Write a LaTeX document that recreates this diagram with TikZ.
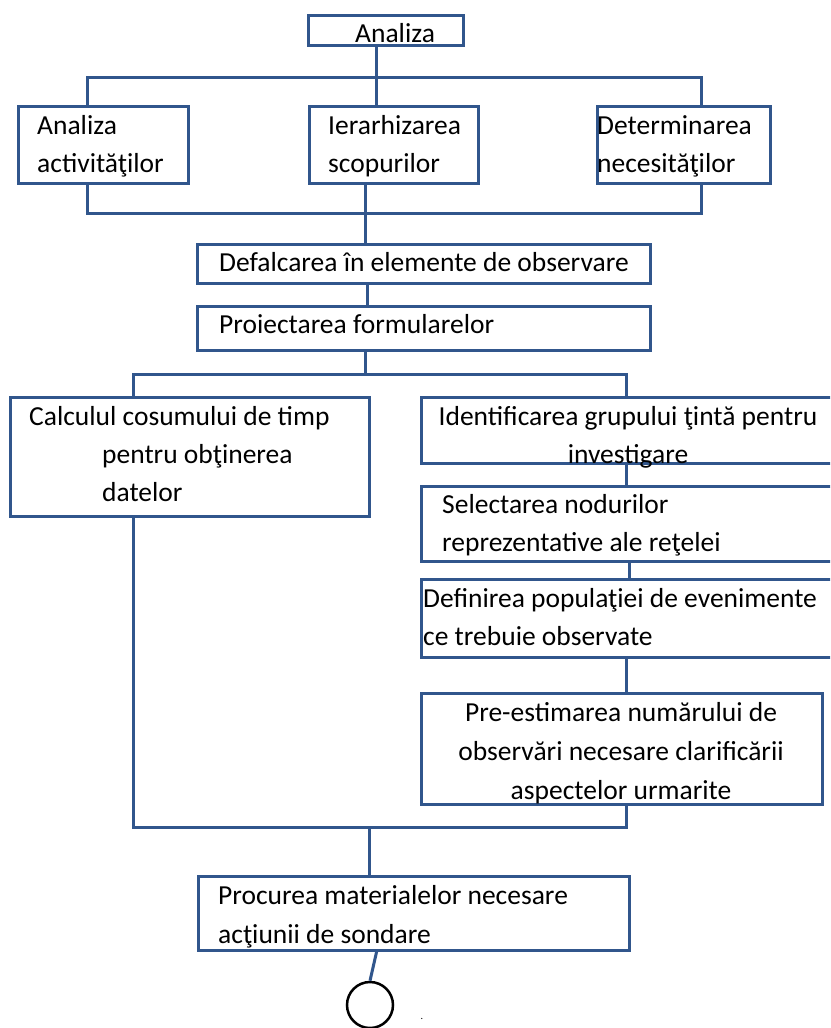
\documentclass[tikz,border=0pt]{standalone}
\usepackage{fontspec}
\setmainfont{Carlito}
\definecolor{bd}{RGB}{49,86,140}
\begin{document}
\begin{tikzpicture}[x=1pt,y=-1pt,
  box/.style={draw=bd, line width=3pt, inner sep=0pt, outer sep=0pt, rectangle},
  wire/.style={draw=bd, line width=3pt},
  txt/.style={font=\fontsize{27.5}{38}\selectfont, inner sep=0pt, align=left, anchor=base west},
  ctxt/.style={font=\fontsize{27.5}{38}\selectfont, inner sep=0pt, align=center, anchor=base}]
\useasboundingbox (0,0) rectangle (830,1028);
\clip (0,0) rectangle (830,1028);
\fill[white] (0,0) rectangle (830,1028);
% boxes
\node[box, minimum width=155pt, minimum height=30pt] (top) at (385.5,30) {};
\node[box, minimum width=170pt, minimum height=77pt] (a1) at (103,144.5) {};
\node[box, minimum width=169pt, minimum height=77pt] (a2) at (393.5,144.5) {};
\node[box, minimum width=173pt, minimum height=77pt] (a3) at (683.5,144.5) {};
\node[box, minimum width=453pt, minimum height=39pt] (def) at (423.5,263.5) {};
\node[box, minimum width=453pt, minimum height=44pt] (proi) at (423.5,328) {};
\node[box, minimum width=359pt, minimum height=119pt] (calc) at (189.5,456.5) {};
\node[box, minimum width=439pt, minimum height=66pt] (ident) at (640.5,430) {};
\node[box, minimum width=439pt, minimum height=75pt] (sel) at (640.5,523.5) {};
\node[box, minimum width=439pt, minimum height=78pt] (defp) at (640.5,618) {};
\node[box, minimum width=401pt, minimum height=111pt] (pre) at (621.5,748.5) {};
\node[box, minimum width=431pt, minimum height=74pt] (proc) at (413.5,913) {};
\node[draw=black, line width=2.5pt, circle, minimum size=46pt, inner sep=0pt] (end) at (370,1005) {};
% junction coordinates
\coordinate (h1L) at (87,77);
\coordinate (h1C) at (376,77);
\coordinate (h1R) at (701,77);
\coordinate (h2L) at (87,213);
\coordinate (h2C) at (365,213);
\coordinate (h2R) at (701,213);
\coordinate (d1) at (367,300);
\coordinate (h3L) at (133,374);
\coordinate (h3C) at (365,374);
\coordinate (h3R) at (626,374);
\coordinate (v1) at (626,470);
\coordinate (v2) at (629,570);
\coordinate (v3) at (626,670);
\coordinate (h4L) at (133,827);
\coordinate (h4C) at (369,827);
\coordinate (h4R) at (626,827);
\coordinate (pb) at (377,950);
% connectors
\draw[wire] (h1C |- top.south) -- (h1C |- a2.north);
\draw[wire] (h1L |- a1.north) -- (h1L) -- (h1R) -- (h1R |- a3.north);
\draw[wire] (h2L |- a1.south) -- (h2L) -- (h2R) -- (h2R |- a3.south);
\draw[wire] (h2C |- a2.south) -- (h2C |- def.north);
\draw[wire] (d1 |- def.south) -- (d1 |- proi.north);
\draw[wire] (h3C |- proi.south) -- (h3C);
\draw[wire] (h3L |- calc.north) -- (h3L) -- (h3R) -- (h3R |- ident.north);
\draw[wire] (v1 |- ident.south) -- (v1 |- sel.north);
\draw[wire] (v2 |- sel.south) -- (v2 |- defp.north);
\draw[wire] (v3 |- defp.south) -- (v3 |- pre.north);
\draw[wire] (h4L |- calc.south) -- (h4L) -- (h4R) -- (h4R |- pre.south);
\draw[wire] (h4C) -- (h4C |- proc.north);
\draw[wire] (pb) -- (end.north);
% texts (base anchor = baseline of last line)
\node[txt] (t0) at (355,42) {Analiza};
\node[txt] (t1) at (37,172) {Analiza\\activităţilor};
\node[txt] (t2) at (328,172) {Ierarhizarea\\scopurilor};
\node[txt] (t3) at (597,172) {Determinarea\\necesităţilor};
\node[txt] (t4) at (219,271) {Defalcarea în elemente de observare};
\node[txt] (t5) at (219,333) {Proiectarea formularelor};
\node[txt] (t6) at (29,501) {Calculul cosumului de timp\\\hspace*{73pt}pentru obţinerea\\\hspace*{73pt}datelor};
\node[ctxt] (t7) at (628,463) {Identificarea grupului ţintă pentru\\investigare};
\node[txt] (t8) at (442,551) {Selectarea nodurilor\\reprezentative ale reţelei};
\node[txt] (t9) at (423,645) {Definirea populaţiei de evenimente\\ce trebuie observate};
\node[ctxt, font=\fontsize{27.5}{39}\selectfont] (t10) at (621,799) {Pre-estimarea numărului de\\observări necesare clarificării\\aspectelor urmarite};
\node[txt, font=\fontsize{27.5}{39}\selectfont] (t11) at (218,943) {Procurea materialelor necesare\\acţiunii de sondare};
\node[font=\fontsize{10}{12}\selectfont, inner sep=0pt, anchor=base] (dot) at (422,1019) {.};
\end{tikzpicture}
\end{document}
